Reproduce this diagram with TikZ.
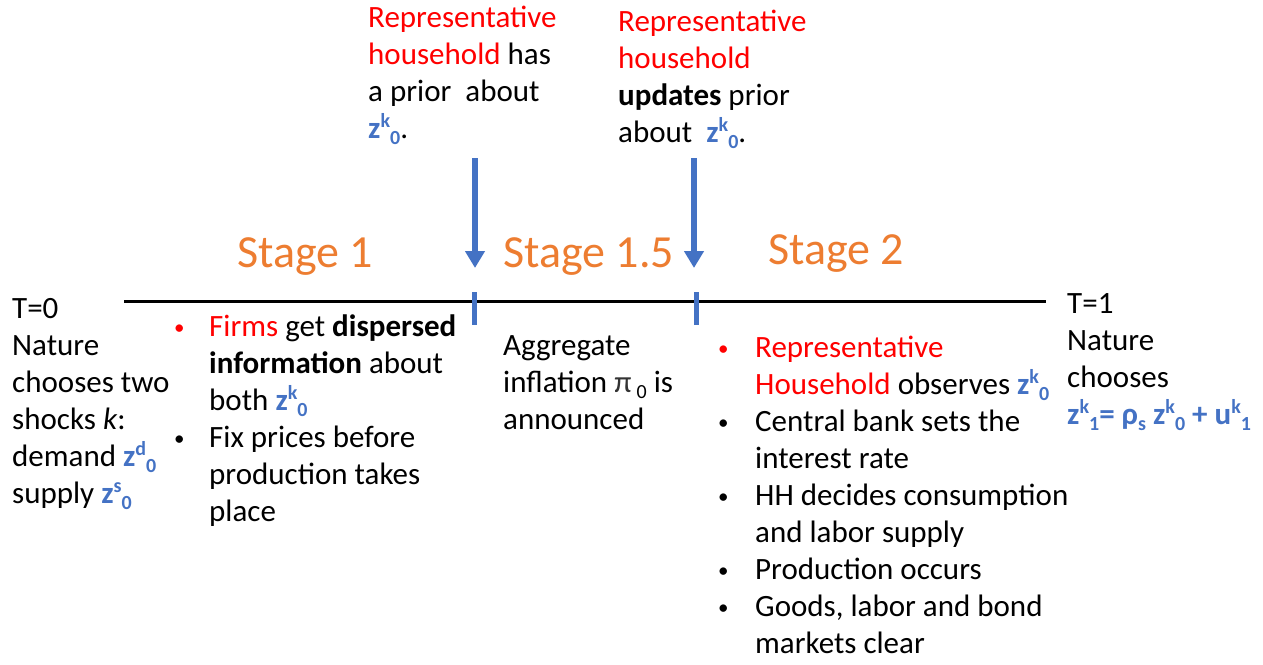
\documentclass[tikz,border=0pt]{standalone}
\usepackage{fontspec}
\setmainfont{Carlito}
\usetikzlibrary{arrows.meta}
\definecolor{zblue}{HTML}{4472C4}
\definecolor{sorange}{HTML}{ED7D31}
\definecolor{hred}{HTML}{FF0000}
\newcommand{\upx}[1]{\raisebox{0.33em}{\fontsize{20}{20}\selectfont #1}}
\newcommand{\dnx}[1]{\raisebox{-0.22em}{\fontsize{20}{20}\selectfont #1}}
\newcommand{\zv}[2]{\textcolor{zblue}{\textbf{z\upx{#1}\dnx{#2}}}}
\newcommand{\bdot}[1]{\raisebox{1.5pt}{\fontsize{21}{21}\selectfont\textcolor{#1}{•}}}
\newcommand{\bul}[1][black]{\makebox[31pt][l]{\bdot{#1}}}
\newcommand{\ind}{\hspace*{31pt}}
\newcommand{\bulb}[1][black]{\makebox[33pt][l]{\bdot{#1}}}
\newcommand{\indb}{\hspace*{33pt}}
\tikzset{
  body/.style={anchor=base west, inner sep=0pt, font=\fontsize{31}{37}\selectfont},
  stagelbl/.style={anchor=base west, inner sep=0pt, text=sorange, font=\fontsize{46}{55}\selectfont},
  marker/.style={draw=zblue, line width=5pt},
  pointer/.style={draw=zblue, line width=5.5pt, -{Triangle[width=19pt,length=17pt]}},
  timeline/.style={draw=black, line width=3pt}
}
\begin{document}
\begin{tikzpicture}[x=1pt,y=-1pt]
\useasboundingbox (0,0) rectangle (1263,664);
% timeline
\coordinate (tl0) at (124,301);
\coordinate (tl1) at (1046,301);
\draw[timeline] (tl0) -- (tl1);
% tick marks
\coordinate (k1a) at (474,292); \coordinate (k1b) at (474,325);
\coordinate (k2a) at (696,292); \coordinate (k2b) at (696,325);
\draw[marker] (k1a) -- (k1b);
\draw[marker] (k2a) -- (k2b);
% arrows
\coordinate (a1s) at (475,158); \coordinate (a1e) at (475,268);
\coordinate (a2s) at (694,158); \coordinate (a2e) at (694,268);
\draw[pointer] (a1s) -- (a1e);
\draw[pointer] (a2s) -- (a2e);
% stage labels
\node[stagelbl] (st1) at (237,267) {Stage 1};
\node[stagelbl] (st15) at (503,267) {Stage 1.5};
\node[stagelbl] (st2) at (768,264) {Stage 2};
% top texts
\node[body] (top1) at (368,27) {\begin{tabular}[t]{@{}l@{}}
\textcolor{hred}{Representative}\\
\textcolor{hred}{household} has\\
a prior\ \ about\\
\zv{k}{0}.
\end{tabular}};
\node[body] (top2) at (618,31) {\begin{tabular}[t]{@{}l@{}}
\textcolor{hred}{Representative}\\
\textcolor{hred}{household}\\
\textbf{updates} prior\\
about\ \ \zv{k}{0}.
\end{tabular}};
% T=0
\node[body] (t0) at (12,318) {\begin{tabular}[t]{@{}l@{}}
T=0\\
Nature\\
chooses two\\
shocks \textit{k}:\\
demand \zv{d}{0}\\
supply \zv{s}{0}
\end{tabular}};
% Stage 1 list
\node[body] (s1) at (174,336) {\begin{tabular}[t]{@{}l@{}}
\bul[hred]\hspace*{4pt}\textcolor{hred}{Firms} get \textbf{dispersed}\\
\ind\hspace*{4pt}\textbf{information} about\\
\ind\hspace*{4pt}both \zv{k}{0}\\
\bul\hspace*{4pt}Fix prices before\\
\ind\hspace*{4pt}production takes\\
\ind\hspace*{4pt}place
\end{tabular}};
% Stage 1.5
\node[body] (s15) at (503,355) {\begin{tabular}[t]{@{}l@{}}
Aggregate\\
inflation \textcolor{black!80}{π}\,\dnx{0} is\\
announced
\end{tabular}};
% Stage 2 list
\node[body] (s2) at (718,357) {\begin{tabular}[t]{@{}l@{}}
\bulb[hred]\hspace*{4pt}\textcolor{hred}{Representative}\\
\indb\hspace*{4pt}\textcolor{hred}{Household} observes \zv{k}{0}\\
\bulb\hspace*{4pt}Central bank sets the\\
\indb\hspace*{4pt}interest rate\\
\bulb\hspace*{4pt}HH decides consumption\\
\indb\hspace*{4pt}and labor supply\\
\bulb\hspace*{4pt}Production occurs\\
\bulb\hspace*{4pt}Goods, labor and bond\\
\indb\hspace*{4pt}markets clear
\end{tabular}};
% T=1
\node[body] (t1) at (1067,313) {\begin{tabular}[t]{@{}l@{}}
T=1\\
Nature\\
chooses\\
\textcolor{zblue}{\textbf{z\upx{k}\dnx{1}= ρ\dnx{s} z\upx{k}\dnx{0} + u\upx{k}\dnx{1}}}
\end{tabular}};
\end{tikzpicture}
\end{document}
